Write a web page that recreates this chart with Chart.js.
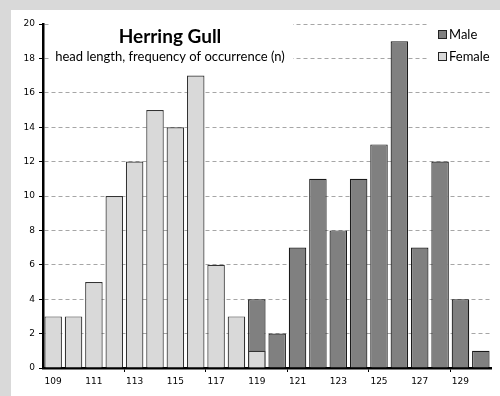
<!DOCTYPE html>
<html>
<head>
<meta charset="utf-8">
<script src="https://cdn.jsdelivr.net/npm/chart.js@4.4.0/dist/chart.umd.min.js"></script>
<style>
  html, body { margin: 0; padding: 0; background: #d9d9d9; }
  #wrap { width: 500px; height: 396px; }
</style>
</head>
<body>
<div id="wrap"><canvas id="gullChart"></canvas></div>
<script>
var lengths = ["109", "110", "111", "112", "113", "114", "115", "116", "117", "118", "119",
               "120", "121", "122", "123", "124", "125", "126", "127", "128", "129", "130"];
var maleCounts   = [0, 0, 0, 0, 0, 0, 0, 0, 0, 0, 4, 2, 7, 11, 8, 11, 13, 19, 7, 12, 4, 1];
var femaleCounts = [3, 3, 5, 10, 12, 15, 14, 17, 6, 3, 1, 0, 0, 0, 0, 0, 0, 0, 0, 0, 0, 0];
var yTicks = [0, 2, 4, 6, 8, 10, 12, 14, 16, 18, 20];

var titleText = "Herring Gull";
var subtitleText = "head length, frequency of occurrence (n)";

// frame, white boxes behind title/legend, then the texts
const decorations = {
  id: 'decorations',
  beforeDraw(chart) {
    const ctx = chart.ctx;
    ctx.save();
    ctx.fillStyle = '#d9d9d9';
    ctx.fillRect(0, 0, chart.width, chart.height);
    ctx.fillStyle = '#ffffff';
    ctx.fillRect(11, 10, chart.width - 11, chart.height - 10);
    ctx.restore();
  },
  beforeDatasetsDraw(chart) {
    const ctx = chart.ctx;
    const area = chart.chartArea;
    ctx.save();
    ctx.fillStyle = '#ffffff';
    ctx.fillRect(area.left + 6, area.top - 8, 244, 48);
    ctx.fillRect(area.right - 63, area.top - 8, 63, 48);
    ctx.restore();
  },
  afterDraw(chart) {
    const ctx = chart.ctx;
    ctx.save();
    ctx.fillStyle = '#000';
    ctx.textAlign = 'center';
    ctx.textBaseline = 'alphabetic';
    ctx.font = 'bold 19px Lato';
    ctx.fillText(titleText, 170, 43);
    ctx.font = '13px Lato';
    ctx.fillText(subtitleText, 170, 61);

    // legend
    ctx.textAlign = 'left';
    ctx.font = '13px Lato';
    chart.data.datasets.forEach(function(ds, i) {
      const y = 30 + i * 22;
      ctx.fillStyle = ds.backgroundColor;
      ctx.fillRect(438.5, y + 0.5, 8, 8);
      ctx.strokeStyle = '#222';
      ctx.lineWidth = 1;
      ctx.strokeRect(438.5, y + 0.5, 8, 8);
      ctx.fillStyle = '#000';
      ctx.fillText(ds.label, 449, y + 9);
    });
    ctx.restore();
  }
};

new Chart(document.getElementById('gullChart'), {
  type: 'bar',
  data: {
    labels: lengths,
    datasets: [
      {
        label: 'Male',
        data: maleCounts,
        backgroundColor: '#808080',
        borderColor: '#1a1a1a',
        borderWidth: 1.2,
        barPercentage: 0.86,
        categoryPercentage: 1,
        order: 2
      },
      {
        label: 'Female',
        data: femaleCounts,
        backgroundColor: '#d9d9d9',
        borderColor: '#333333',
        borderWidth: 1.2,
        barPercentage: 0.86,
        categoryPercentage: 1,
        order: 1
      }
    ]
  },
  options: {
    responsive: true,
    maintainAspectRatio: false,
    animation: false,
    layout: { padding: { left: 11, top: 24, right: 9, bottom: 0 } },
    plugins: {
      legend: { display: false },
      title: { display: false },
      tooltip: { enabled: false }
    },
    scales: {
      x: {
        stacked: true,
        afterFit: function(scale) { scale.height = 28; },
        border: { color: '#000', width: 2.5 },
        grid: {
          offset: true,
          drawOnChartArea: false,
          tickLength: 4,
          color: function(c) {
            return (c.index > 0 && c.index % 4 === 0) ? '#000' : 'rgba(0,0,0,0)';
          }
        },
        ticks: {
          autoSkip: false,
          maxRotation: 0,
          padding: 4,
          color: '#000',
          font: { family: 'DejaVu Sans', size: 9 },
          callback: function(v, i) { return i % 2 === 0 ? lengths[i] : ''; }
        }
      },
      y: {
        stacked: false,
        min: 0,
        max: 20,
        afterFit: function(scale) { scale.width = 32; },
        afterBuildTicks: function(scale) {
          scale.ticks = yTicks.map(function(v) { return { value: v }; });
        },
        border: { color: '#000', width: 2.5, dash: [4, 3] },
        grid: {
          color: '#a6a6a6',
          tickColor: '#000',
          tickBorderDash: [],
          tickLength: 4,
          drawTicks: true
        },
        ticks: {
          color: '#000',
          padding: 4,
          font: { family: 'DejaVu Sans', size: 9 }
        }
      }
    }
  },
  plugins: [decorations]
});
</script>
</body>
</html>
